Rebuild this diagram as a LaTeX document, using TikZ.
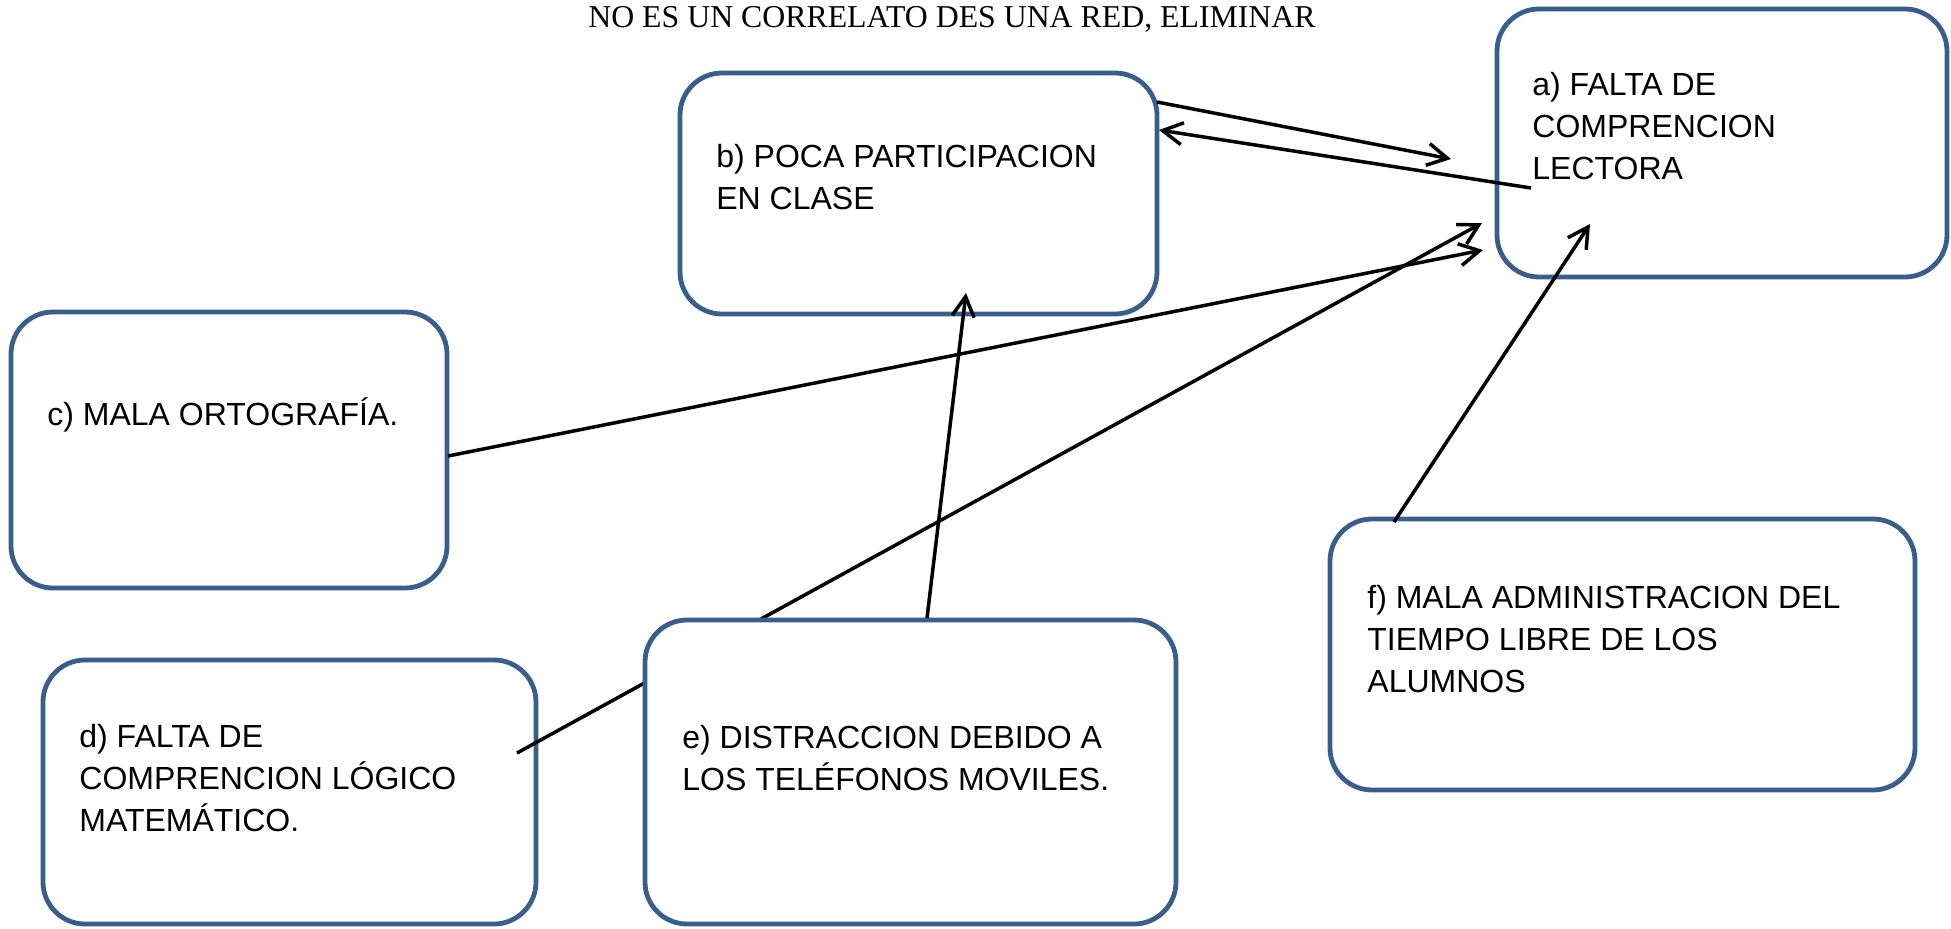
\documentclass[tikz,border=0pt]{standalone}
\usepackage{fontspec}
\setmainfont{Liberation Sans}
\newfontfamily\titlefont{Liberation Serif}
\usetikzlibrary{arrows.meta}
\definecolor{boxblue}{RGB}{58,94,140}
\newcommand{\boxlines}[1]{\begin{tabular}[t]{@{}l@{}}#1\end{tabular}}
\begin{document}
\begin{tikzpicture}[x=0.5pt,y=-0.5pt,
  box/.style={draw=boxblue, line width=2.4pt, rounded corners=21pt, fill=white, inner sep=0pt},
  txt/.style={anchor=base west, inner sep=0pt, font=\fontsize{16}{21}\selectfont},
  conn/.style={line width=1.75pt},
  arr/.style={conn, -{Straight Barb[length=10pt,width=11pt]}}]
\useasboundingbox (0,0) rectangle (1951,928);

% title
\node[anchor=base, inner sep=0pt, font=\titlefont\fontsize{15.9}{19}\selectfont] (title) at (952,27) {NO ES UN CORRELATO DES UNA RED, ELIMINAR};

% boxes
\node[box, minimum width=225pt, minimum height=134pt] (a) at (1722,143) {};
\node[box, minimum width=238.5pt, minimum height=120.5pt] (b) at (918.5,193.5) {};
\node[box, minimum width=218pt, minimum height=138pt] (c) at (229,450) {};
\node[box, minimum width=246.5pt, minimum height=132pt] (d) at (289.5,792) {};
\node[box, minimum width=292.5pt, minimum height=135.5pt] (f) at (1622.5,654.5) {};

% connector end points
\coordinate (ba0) at (1157,102); \coordinate (ba1) at (1451,159);
\coordinate (ab0) at (1531,188); \coordinate (ab1) at (1159,130);
\coordinate (ca0) at (448,456);  \coordinate (ca1) at (1483,250);
\coordinate (da0) at (517,753);  \coordinate (da1) at (1482,223);
\coordinate (eb0) at (927,618);  \coordinate (eb1) at (966,293);
\coordinate (fa0) at (1394,522); \coordinate (fa1) at (1590,224);

% connectors
\draw[arr] (ba0) -- (ba1);
\draw[arr] (ab0) -- (ab1);
\draw[arr] (ca0) -- (ca1);
\draw[arr] (da0) -- (da1);
\draw[arr] (fa0) -- (fa1);

% box e drawn over the d-a connector
\node[box, minimum width=265.5pt, minimum height=152pt] (e) at (910.5,772) {};
\draw[arr] (eb0) -- (eb1);

% texts
\node[txt] (ta) at (1532,95) {\boxlines{a) FALTA DE\\COMPRENCION\\LECTORA}};
\node[txt] (tb) at (716,167) {\boxlines{b) POCA PARTICIPACION\\EN CLASE}};
\node[txt] (tc) at (47,425) {c) MALA ORTOGRAFÍA.};
\node[txt] (td) at (79,747) {\boxlines{d) FALTA DE\\COMPRENCION LÓGICO\\MATEMÁTICO.}};
\node[txt] (te) at (682,748) {\boxlines{e) DISTRACCION DEBIDO A\\LOS TELÉFONOS MOVILES.}};
\node[txt] (tf) at (1367,608) {\boxlines{f) MALA ADMINISTRACION DEL\\TIEMPO LIBRE DE LOS\\ALUMNOS}};
\end{tikzpicture}
\end{document}
